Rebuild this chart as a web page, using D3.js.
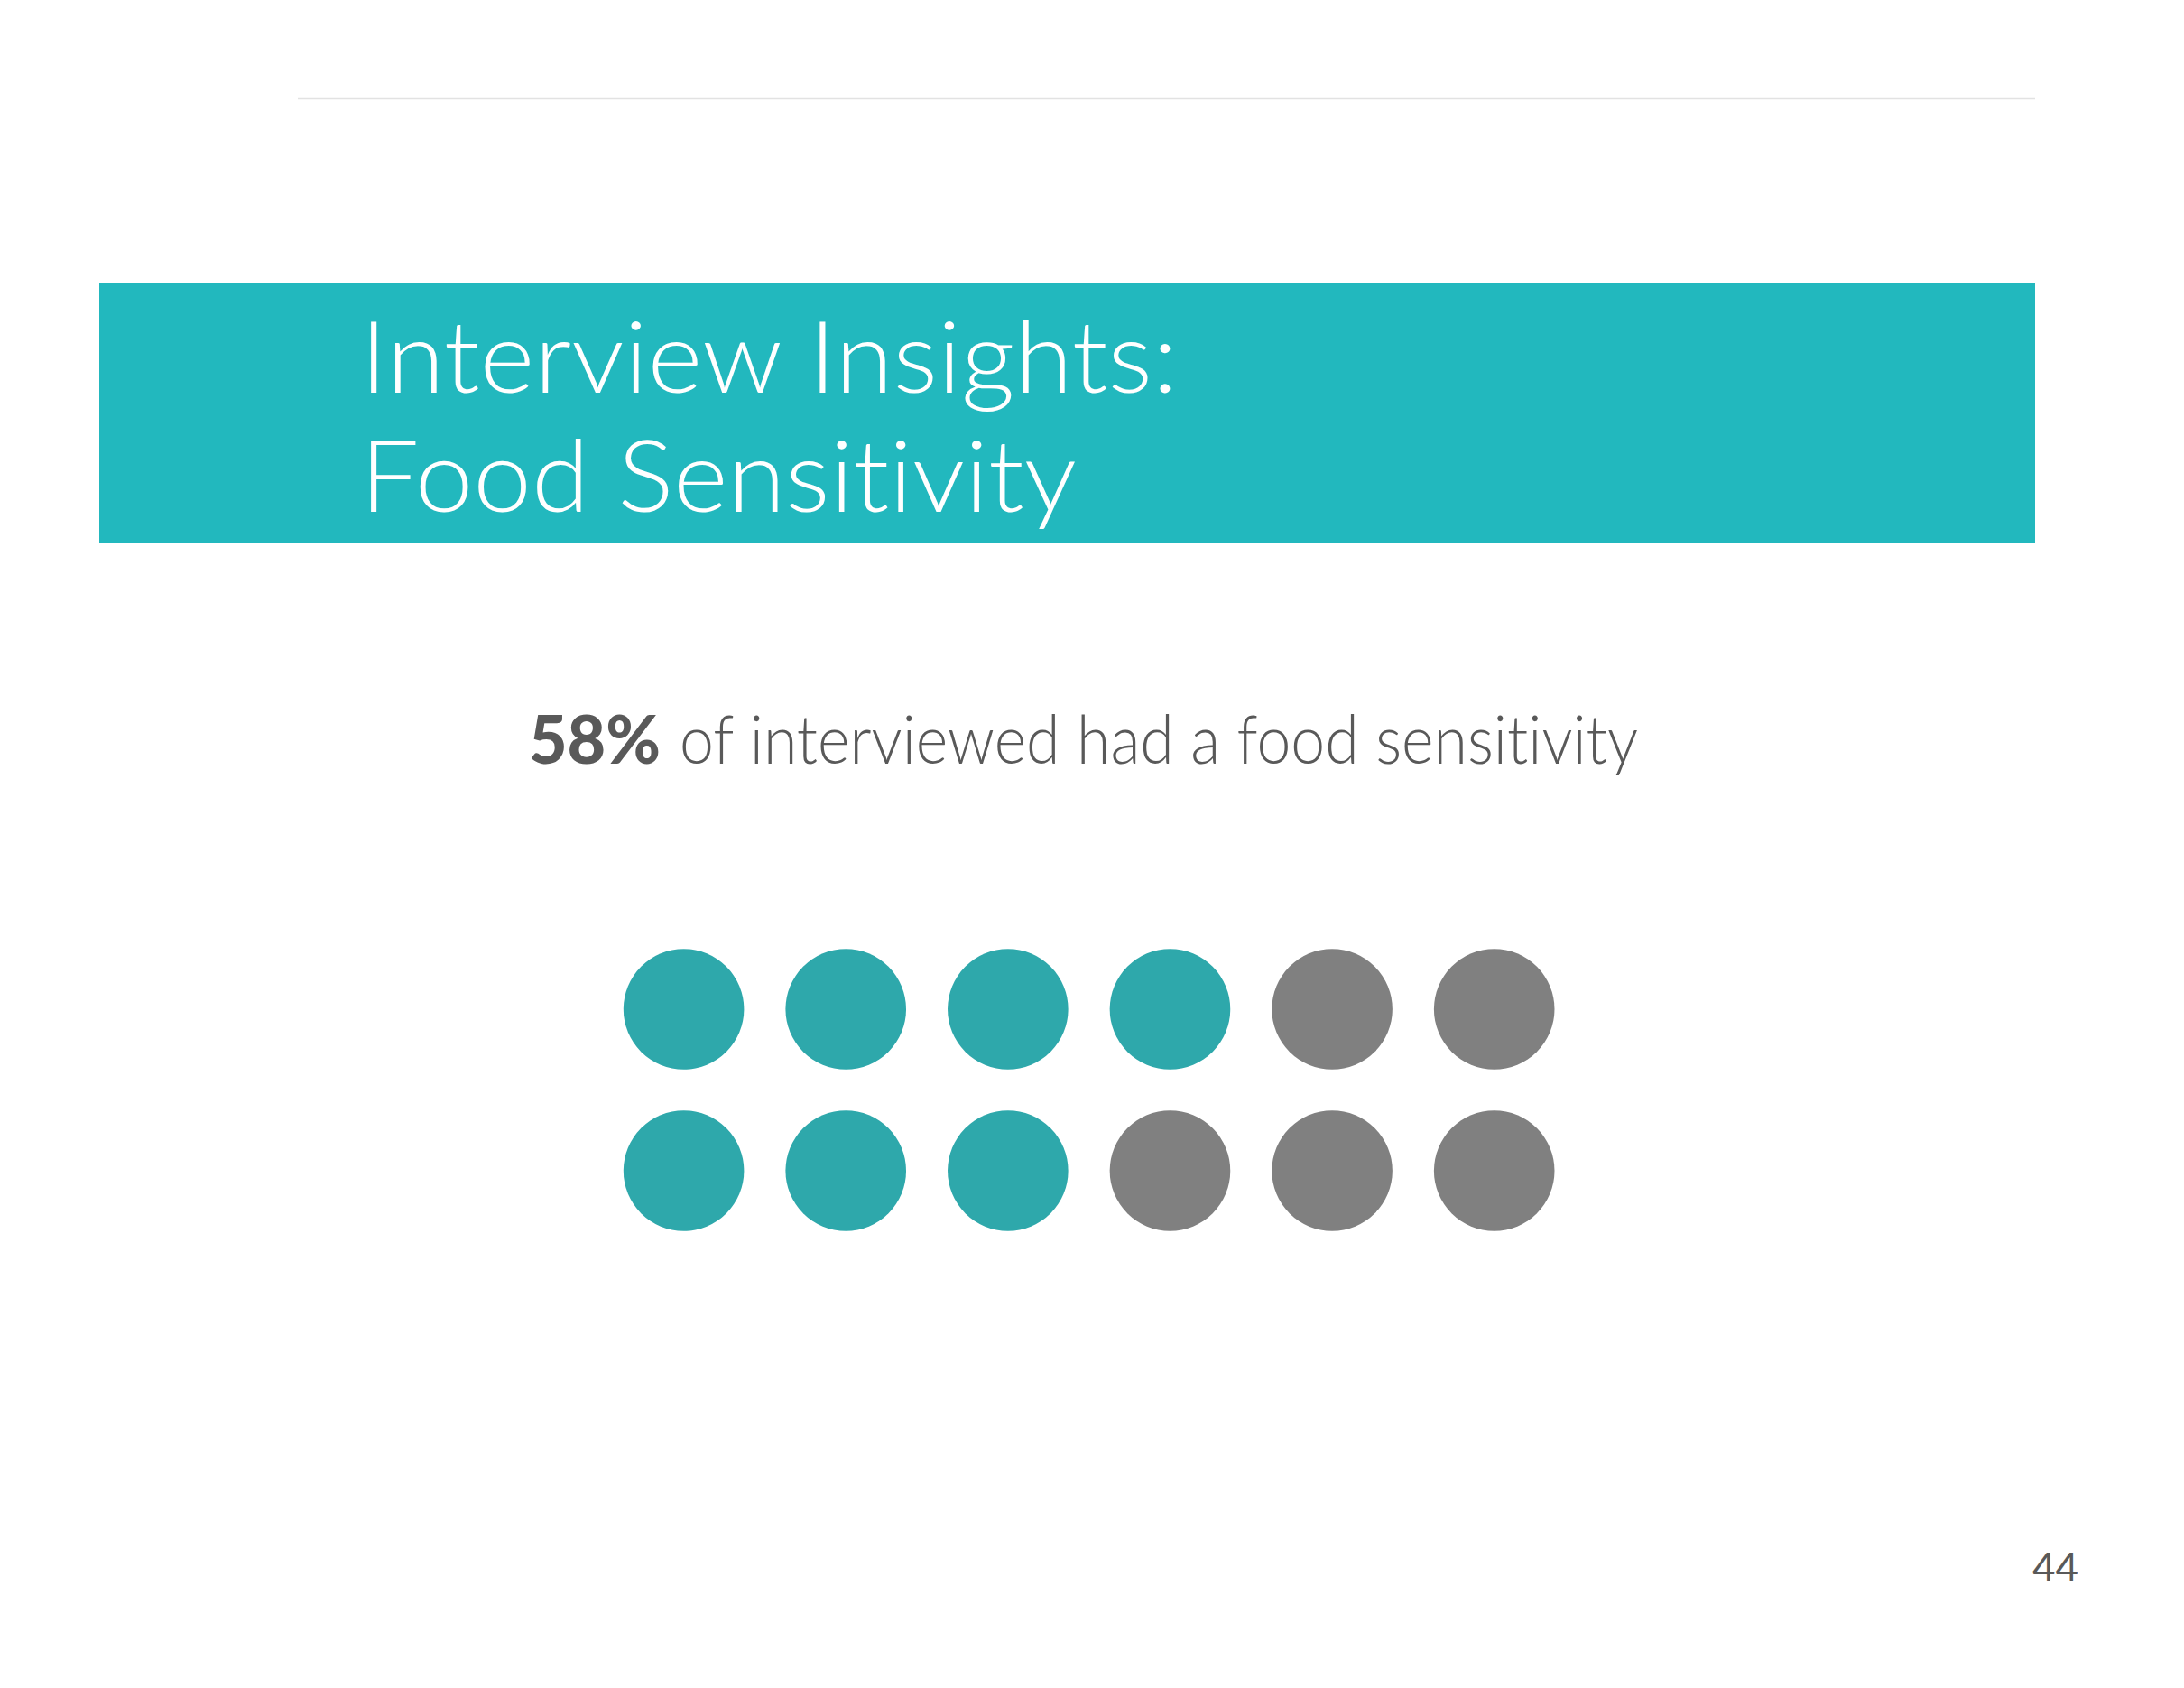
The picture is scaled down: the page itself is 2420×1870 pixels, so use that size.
<!DOCTYPE html>
<html>
<head>
<meta charset="utf-8">
<script src="https://cdn.jsdelivr.net/npm/d3@7"></script>
<style>
  html, body { margin: 0; padding: 0; background: #ffffff; }
  svg { display: block; }
  text { font-variant-ligatures: none; font-feature-settings: "liga" 0, "clig" 0; }
</style>
</head>
<body>
<script>
// ---- Data ----
const titleLines = ["Interview Insights:", "Food Sensitivity"];
const headlineValue = "58%";
const headlineText = "of interviewed had a food sensitivity";
const pageNumber = "44";
// 12 interviewees: 1 = had a food sensitivity, 0 = did not
const respondentRow = [0, 0, 0, 0, 0, 0, 1, 1, 1, 1, 1, 1];
const respondentCol = [0, 1, 2, 3, 4, 5, 0, 1, 2, 3, 4, 5];
const respondentHasSensitivity = [1, 1, 1, 1, 0, 0, 1, 1, 1, 0, 0, 0];

const W = 2420, H = 1870;
const svg = d3.select("body").append("svg").attr("width", W).attr("height", H);

const teal = "#22b8be", dotTeal = "#2ea8ab", dotGrey = "#808080", textGrey = "#595959";
const font = "Lato, 'Open Sans', 'DejaVu Sans', sans-serif";

// top rule
svg.append("line")
  .attr("x1", 330).attr("x2", 2255).attr("y1", 109.5).attr("y2", 109.5)
  .attr("stroke", "#e2e2e2").attr("stroke-width", 1.5);

// banner
svg.append("rect")
  .attr("x", 110).attr("y", 313).attr("width", 2145).attr("height", 288)
  .attr("fill", teal);

const titleWidths = [906, 794];
svg.selectAll("text.title").data(titleLines).enter().append("text")
  .attr("class", "title")
  .attr("x", 399)
  .attr("y", (d, i) => 435 + i * 131.7)
  .attr("fill", "#ffffff")
  .attr("font-family", font)
  .attr("font-weight", 300)
  .attr("font-size", 110)
  .attr("textLength", (d, i) => titleWidths[i])
  .attr("lengthAdjust", "spacingAndGlyphs")
  .text(d => d);

// headline
svg.append("text")
  .attr("x", 586).attr("y", 846)
  .attr("fill", textGrey)
  .attr("font-family", font)
  .attr("font-weight", 900)
  .attr("font-size", 74)
  .attr("textLength", 146)
  .attr("lengthAdjust", "spacingAndGlyphs")
  .text(headlineValue);

svg.append("text")
  .attr("x", 753).attr("y", 846)
  .attr("fill", textGrey)
  .attr("font-family", font)
  .attr("font-weight", 300)
  .attr("font-size", 74)
  .attr("textLength", 1062)
  .attr("lengthAdjust", "spacingAndGlyphs")
  .text(headlineText);

// dots
const x = d3.scalePoint().domain(d3.range(6)).range([757.6, 1655.7]);
const y = d3.scalePoint().domain(d3.range(2)).range([1118, 1297]);
const color = d3.scaleOrdinal().domain([1, 0]).range([dotTeal, dotGrey]);

svg.append("g").selectAll("circle")
  .data(respondentHasSensitivity.map((v, i) => ({ v, r: respondentRow[i], c: respondentCol[i] })))
  .enter().append("circle")
  .attr("cx", d => x(d.c))
  .attr("cy", d => y(d.r))
  .attr("r", 66.8)
  .attr("fill", d => color(d.v));

// page number
svg.append("text")
  .attr("x", 2303).attr("y", 1752)
  .attr("text-anchor", "end")
  .attr("fill", textGrey)
  .attr("font-family", font)
  .attr("font-weight", 400)
  .attr("font-size", 44)
  .text(pageNumber);
</script>
</body>
</html>
